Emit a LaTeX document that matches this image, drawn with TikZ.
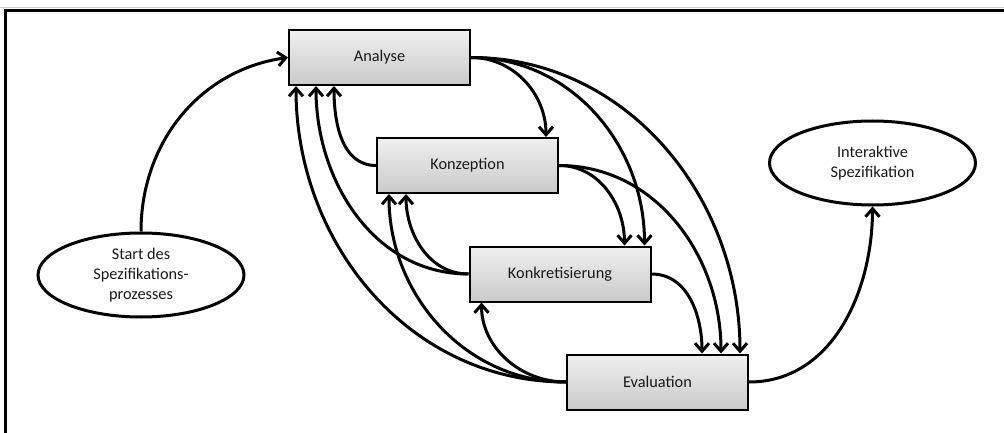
\documentclass[tikz,border=0pt]{standalone}
\usepackage{fontspec}
\setmainfont{Carlito}
\usetikzlibrary{arrows.meta,shapes.geometric}
\begin{document}
\begin{tikzpicture}[x=1pt,y=-1pt,
  phase/.style={draw=black,line width=2pt,rectangle,minimum width=181pt,minimum height=55pt,
    top color=gray!12,bottom color=gray!42,inner sep=0pt,text=black!90,
    font=\fontsize{16.3}{20}\selectfont},
  terminal/.style={draw=black,line width=3pt,ellipse,fill=white,minimum width=206pt,
    minimum height=84pt,inner sep=0pt,align=center,text=black!90,
    font=\fontsize{16.3}{20}\selectfont},
  flow/.style={line width=3pt,-{Straight Barb[length=8pt,width=14pt]}}]
\useasboundingbox (0,0) rectangle (1004,433);
% frame edges
\draw[gray!40,line width=1pt] (0,8) -- (1004,8);
\draw[line width=2.6pt] (5.7,433) -- (5.7,10.8) -- (1004,10.8);

% phases
\node[phase] (ana) at (379.5,57.5) {Analyse};
\node[phase] (kon) at (467.5,165.5) {Konzeption};
\node[phase] (kre) at (560,274) {Konkretisierung};
\node[phase] (eva) at (657.5,382) {Evaluation};

% start and end
\node[terminal] (start) at (141,275) {Start des\\Spezifikations-\\prozesses};
\node[terminal] (inter) at (872.5,163) {Interaktive\\Spezifikation};

% entry and exit
\draw[flow] (start.north) to[out=90,in=188] (ana.west);
\draw[flow] (eva.east) to[out=0,in=-90] (inter.south);

% forward flows
\draw[flow] (ana.east) to[out=0,in=90] ([xshift=-13pt]kon.north east);
\draw[flow] (ana.east) to[out=0,in=90] ([xshift=-7pt]kre.north east);
\draw[flow] (ana.east) to[out=0,in=90] ([xshift=-9pt]eva.north east);
\draw[flow] (kon.east) to[out=0,in=90] ([xshift=-27pt]kre.north east);
\draw[flow] (kon.east) to[out=0,in=90] ([xshift=-28pt]eva.north east);
\draw[flow] (kre.east) to[out=0,in=90] ([xshift=-47pt]eva.north east);

% feedback flows
\draw[flow] (kon.west) to[out=180,in=-90] ([xshift=46pt]ana.south west);
\draw[flow] (kre.west) to[out=180,in=-90] ([xshift=28pt]ana.south west);
\draw[flow] (kre.west) to[out=180,in=-90] ([xshift=30pt]kon.south west);
\draw[flow] (eva.west) to[out=180,in=-90] ([xshift=8pt]ana.south west);
\draw[flow] (eva.west) to[out=180,in=-90] ([xshift=13pt]kon.south west);
\draw[flow] (eva.west) to[out=180,in=-90] ([xshift=13pt]kre.south west);
\end{tikzpicture}
\end{document}
